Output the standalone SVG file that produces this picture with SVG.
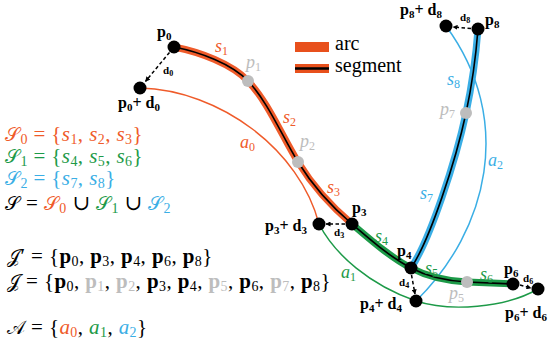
<svg xmlns="http://www.w3.org/2000/svg" width="550" height="349" viewBox="0 0 550 349">
<style>
.or{fill:#EF5B2A}.gr{fill:#1D9A48}.bl{fill:#3AAEE5}.gy{fill:#BDBDBD}.bk{fill:#000}
.lb{font-family:"Liberation Serif","DejaVu Serif",serif;font-weight:bold;font-size:16px;fill:#000}
.sm{font-family:"Liberation Serif","DejaVu Serif",serif;font-weight:bold;font-size:11px;fill:#000}
.il{font-family:"Liberation Serif","DejaVu Serif",serif;font-style:italic;font-size:18px}
.m{font-family:"Liberation Serif","DejaVu Serif",serif;font-size:21px;letter-spacing:0.4px}
.sc{font-family:"DejaVu Serif","DejaVu Sans","Liberation Serif",serif;font-style:normal;font-size:19px}
.it{font-style:italic}
.bd{font-weight:bold}
.sb{font-size:14px;font-style:normal;font-weight:normal}
.ls{font-size:12px;font-style:normal}
.bs{font-size:11px}
.leg{font-family:"Liberation Serif","DejaVu Serif",serif;font-size:20px;fill:#000}
.arc{fill:none;stroke-width:1.5}
.band{fill:none;stroke-width:7;stroke-linecap:round}
.core{fill:none;stroke:#000;stroke-width:1.6}
.dash{fill:none;stroke:#000;stroke-width:1.5;stroke-dasharray:3.5 2.5;marker-end:url(#ah)}
</style>
<defs>
<marker id="ah" viewBox="0 0 10 10" refX="9" refY="5" markerWidth="5" markerHeight="5" orient="auto" markerUnits="userSpaceOnUse"><path d="M0,0 L10,5 L0,10 z" fill="#000"/></marker>
</defs>

<g id="legend">
<rect x="295" y="42" width="34" height="10" fill="#E8501C"/>
<text class="leg" x="335" y="50">arc</text>
<rect x="295" y="64" width="34" height="9" fill="#E8501C"/>
<line x1="295" y1="68.5" x2="329" y2="68.5" stroke="#000" stroke-width="2.5"/>
<text class="leg" x="335" y="72">segment</text>
</g>

<g id="connectors">
<path id="a0" class="arc" stroke="#EF5B2A" d="M140,88 C220,90 300,150 319,224"/>
<path id="a1" class="arc" stroke="#1D9A48" d="M319,224 C335,255 370,285 416,301 C450,312 505,308 538,289"/>
<path id="a2" class="arc" stroke="#3AAEE5" d="M416,301 C488,230 515,120 446,26"/>
<path class="band" stroke="#EF5B2A" d="M174,47 C200,52 232,64 248,81 C268,102 282,136 298,162 C314,188 332,207 352,224"/>
<path class="core" d="M174,47 C200,52 232,64 248,81 C268,102 282,136 298,162 C314,188 332,207 352,224"/>
<path class="band" stroke="#1D9A48" d="M352,224 C372,241 390,257 411,268 C430,278 448,281 467,282 L513,284"/>
<path class="core" d="M352,224 C372,241 390,257 411,268 C430,278 448,281 467,282 L513,284"/>
<path class="band" stroke="#3AAEE5" d="M411,268 C430,240 456,160 466,113 C472,85 476,55 478,29"/>
<path class="core" d="M411,268 C430,240 456,160 466,113 C472,85 476,55 478,29"/>
<path class="dash" d="M169.5,52.4 L145.5,81.4"/>
<path class="dash" d="M345,224 L326,224"/>
<path class="dash" d="M411.5,275 L415,294"/>
<path class="dash" d="M520,285 L531,288"/>
<path class="dash" d="M471,28.5 L453,27"/>
</g>

<g id="p0"><circle cx="174" cy="47" r="6.5" class="bk"/><text class="lb" x="157" y="37">p<tspan class="bs" dy="3">0</tspan></text></g>
<g id="p0d0"><circle cx="140" cy="88" r="6.5" class="bk"/><text class="lb" x="118" y="108">p<tspan class="bs" dy="3">0</tspan><tspan dy="-3">+ d</tspan><tspan class="bs" dy="3">0</tspan></text><text class="sm" x="163" y="74">d<tspan font-size="8" dy="2">0</tspan></text></g>
<g id="p1"><circle cx="248" cy="81" r="6" class="gy"/><text class="il gy" x="246" y="68">p<tspan class="ls" dy="3">1</tspan></text></g>
<g id="p2"><circle cx="298" cy="162" r="6" class="gy"/><text class="il gy" x="300" y="147">p<tspan class="ls" dy="3">2</tspan></text></g>
<g id="p3"><circle cx="352" cy="224" r="6.5" class="bk"/><text class="lb" x="352" y="213">p<tspan class="bs" dy="3">3</tspan></text></g>
<g id="p3d3"><circle cx="319" cy="224" r="6.5" class="bk"/><text class="lb" x="265" y="231">p<tspan class="bs" dy="3">3</tspan><tspan dy="-3">+ d</tspan><tspan class="bs" dy="3">3</tspan></text><text class="sm" x="334" y="236">d<tspan font-size="8" dy="2">3</tspan></text></g>
<g id="p4"><circle cx="411" cy="268" r="6.5" class="bk"/><text class="lb" x="397" y="256">p<tspan class="bs" dy="3">4</tspan></text></g>
<g id="p4d4"><circle cx="416" cy="301" r="6.5" class="bk"/><text class="lb" x="360" y="309">p<tspan class="bs" dy="3">4</tspan><tspan dy="-3">+ d</tspan><tspan class="bs" dy="3">4</tspan></text><text class="sm" x="399" y="286">d<tspan font-size="8" dy="2">4</tspan></text></g>
<g id="p5"><circle cx="467" cy="282" r="6" class="gy"/><text class="il gy" x="449" y="299">p<tspan class="ls" dy="3">5</tspan></text></g>
<g id="p6"><circle cx="513" cy="284" r="6.5" class="bk"/><text class="lb" x="504" y="274">p<tspan class="bs" dy="3">6</tspan></text><text class="sm" x="523" y="282">d<tspan font-size="8" dy="2">6</tspan></text></g>
<g id="p6d6"><circle cx="538" cy="289" r="6.5" class="bk"/><text class="lb" x="505" y="318">p<tspan class="bs" dy="3">6</tspan><tspan dy="-3">+ d</tspan><tspan class="bs" dy="3">6</tspan></text></g>
<g id="p7"><circle cx="466" cy="113" r="6" class="gy"/><text class="il gy" x="440" y="115">p<tspan class="ls" dy="3">7</tspan></text></g>
<g id="p8"><circle cx="478" cy="29" r="6.5" class="bk"/><text class="lb" x="485" y="25">p<tspan class="bs" dy="3">8</tspan></text><text class="sm" x="460" y="21">d<tspan font-size="8" dy="2">8</tspan></text></g>
<g id="p8d8"><circle cx="446" cy="26" r="6.5" class="bk"/><text class="lb" x="400" y="15">p<tspan class="bs" dy="3">8</tspan><tspan dy="-3">+ d</tspan><tspan class="bs" dy="3">8</tspan></text></g>

<g id="labels">
<text class="il or" x="215" y="52">s<tspan class="ls" dy="3">1</tspan></text>
<text class="il or" x="283" y="123">s<tspan class="ls" dy="3">2</tspan></text>
<text class="il or" x="327" y="193">s<tspan class="ls" dy="3">3</tspan></text>
<text class="il or" x="240" y="148">a<tspan class="ls" dy="3">0</tspan></text>
<text class="il gr" x="375" y="242">s<tspan class="ls" dy="3">4</tspan></text>
<text class="il gr" x="425" y="274">s<tspan class="ls" dy="3">5</tspan></text>
<text class="il gr" x="480" y="280">s<tspan class="ls" dy="3">6</tspan></text>
<text class="il gr" x="341" y="278">a<tspan class="ls" dy="3">1</tspan></text>
<text class="il bl" x="420" y="199">s<tspan class="ls" dy="3">7</tspan></text>
<text class="il bl" x="447" y="85">s<tspan class="ls" dy="3">8</tspan></text>
<text class="il bl" x="488" y="166">a<tspan class="ls" dy="3">2</tspan></text>
</g>

<g id="sets">
<text class="m or" x="5" y="141"><tspan class="sc">𝒮</tspan><tspan class="sb" dy="3">0</tspan><tspan dy="-3"> = {</tspan><tspan class="it">s</tspan><tspan class="sb" dy="3">1</tspan><tspan dy="-3">, </tspan><tspan class="it">s</tspan><tspan class="sb" dy="3">2</tspan><tspan dy="-3">, </tspan><tspan class="it">s</tspan><tspan class="sb" dy="3">3</tspan><tspan dy="-3">}</tspan></text>
<text class="m gr" x="5" y="163"><tspan class="sc">𝒮</tspan><tspan class="sb" dy="3">1</tspan><tspan dy="-3"> = {</tspan><tspan class="it">s</tspan><tspan class="sb" dy="3">4</tspan><tspan dy="-3">, </tspan><tspan class="it">s</tspan><tspan class="sb" dy="3">5</tspan><tspan dy="-3">, </tspan><tspan class="it">s</tspan><tspan class="sb" dy="3">6</tspan><tspan dy="-3">}</tspan></text>
<text class="m bl" x="5" y="185"><tspan class="sc">𝒮</tspan><tspan class="sb" dy="3">2</tspan><tspan dy="-3"> = {</tspan><tspan class="it">s</tspan><tspan class="sb" dy="3">7</tspan><tspan dy="-3">, </tspan><tspan class="it">s</tspan><tspan class="sb" dy="3">8</tspan><tspan dy="-3">}</tspan></text>
<text class="m bk" x="5" y="210"><tspan class="sc">𝒮</tspan> = <tspan class="sc or">𝒮</tspan><tspan class="sb or" dy="3">0</tspan><tspan dy="-3"> ∪ </tspan><tspan class="sc gr">𝒮</tspan><tspan class="sb gr" dy="3">1</tspan><tspan dy="-3"> ∪ </tspan><tspan class="sc bl">𝒮</tspan><tspan class="sb bl" dy="3">2</tspan></text>
<text class="m bk" x="7" y="263"><tspan class="sc">𝒥</tspan>′ = {<tspan class="bd">p</tspan><tspan class="sb" dy="3">0</tspan><tspan dy="-3">, </tspan><tspan class="bd">p</tspan><tspan class="sb" dy="3">3</tspan><tspan dy="-3">, </tspan><tspan class="bd">p</tspan><tspan class="sb" dy="3">4</tspan><tspan dy="-3">, </tspan><tspan class="bd">p</tspan><tspan class="sb" dy="3">6</tspan><tspan dy="-3">, </tspan><tspan class="bd">p</tspan><tspan class="sb" dy="3">8</tspan><tspan dy="-3">}</tspan></text>
<text class="m bk" x="7" y="288"><tspan class="sc">𝒥</tspan> = {<tspan class="bd">p</tspan><tspan class="sb" dy="3">0</tspan><tspan dy="-3">, </tspan><tspan class="bd gy">p</tspan><tspan class="sb gy" dy="3">1</tspan><tspan dy="-3">, </tspan><tspan class="bd gy">p</tspan><tspan class="sb gy" dy="3">2</tspan><tspan dy="-3">, </tspan><tspan class="bd">p</tspan><tspan class="sb" dy="3">3</tspan><tspan dy="-3">, </tspan><tspan class="bd">p</tspan><tspan class="sb" dy="3">4</tspan><tspan dy="-3">, </tspan><tspan class="bd gy">p</tspan><tspan class="sb gy" dy="3">5</tspan><tspan dy="-3">, </tspan><tspan class="bd">p</tspan><tspan class="sb" dy="3">6</tspan><tspan dy="-3">, </tspan><tspan class="bd gy">p</tspan><tspan class="sb gy" dy="3">7</tspan><tspan dy="-3">, </tspan><tspan class="bd">p</tspan><tspan class="sb" dy="3">8</tspan><tspan dy="-3">}</tspan></text>
<text class="m bk" x="7" y="334"><tspan class="sc">𝒜</tspan> = {<tspan class="it or">a</tspan><tspan class="sb or" dy="3">0</tspan><tspan dy="-3">, </tspan><tspan class="it gr">a</tspan><tspan class="sb gr" dy="3">1</tspan><tspan dy="-3">, </tspan><tspan class="it bl">a</tspan><tspan class="sb bl" dy="3">2</tspan><tspan dy="-3">}</tspan></text>
</g>
</svg>
